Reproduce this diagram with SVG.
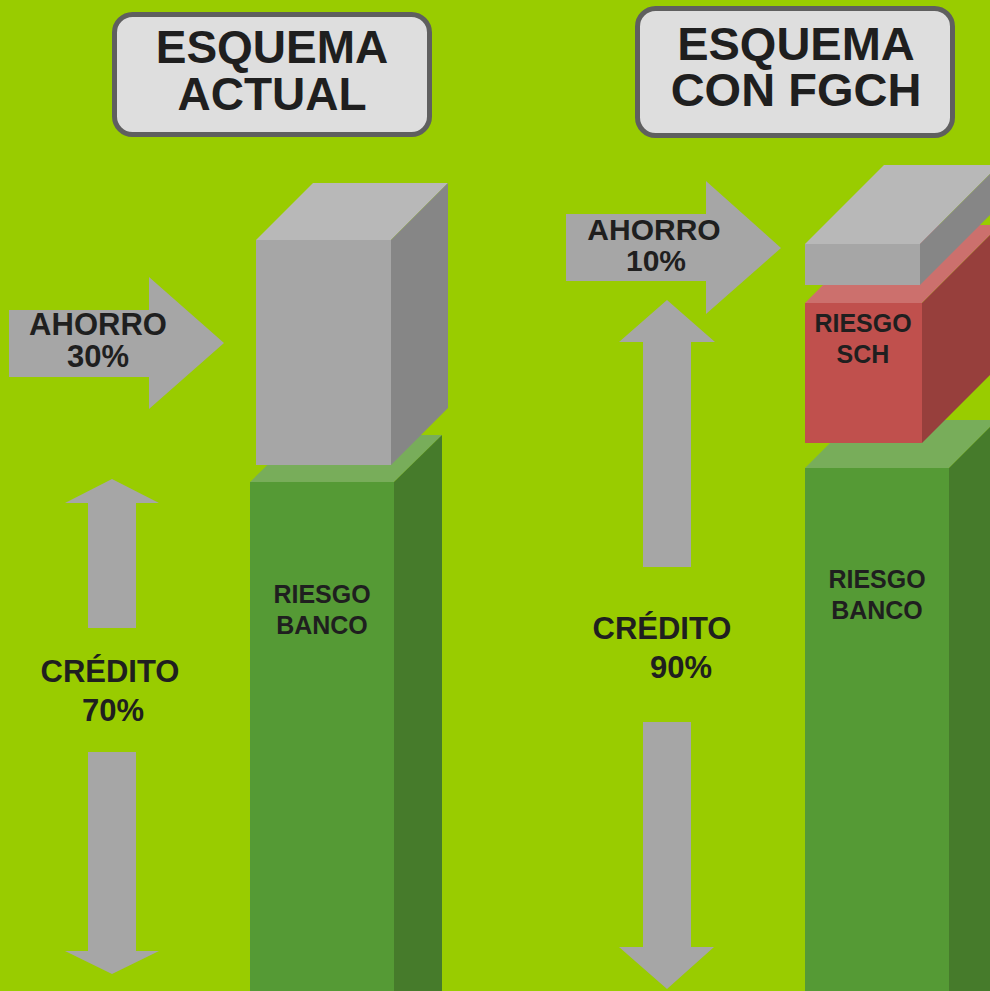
<svg xmlns="http://www.w3.org/2000/svg" width="990" height="991" viewBox="0 0 990 991">
<style>
.t{font-family:"Liberation Sans",Arial,sans-serif;font-weight:bold;fill:#1f1f1f;text-anchor:middle}
.title{font-size:46px}
.lab{font-size:31px}
.sm{font-size:25px}
.arr{fill:#a6a6a6}
.box{fill:#dedede;stroke:#5f5f5f;stroke-width:5}
.gF{fill:#a6a6a6}.gT{fill:#b8b8b8}.gS{fill:#868686}
.nF{fill:#559a35}.nT{fill:#78ad5a}.nS{fill:#467b2b}
.rF{fill:#c0504d}.rT{fill:#cc706d}.rS{fill:#973f3c}
</style>
<rect width="990" height="991" fill="#99cc00"/>

<g id="title-actual">
<rect class="box" x="114.5" y="14.5" width="315" height="120" rx="18"/>
<text class="t title" x="272" y="63">ESQUEMA</text>
<text class="t title" x="272" y="110">ACTUAL</text>
</g>
<g id="title-fgch">
<rect class="box" x="637.5" y="8.5" width="315" height="127" rx="18"/>
<text class="t title" x="796" y="60" style="font-size:47px">ESQUEMA</text>
<text class="t title" x="796" y="106" style="font-size:47px">CON FGCH</text>
</g>

<g id="left-banco">
<polygon class="nT" points="250,482 394,482 442,435 298,435"/>
<polygon class="nS" points="394,482 442,435 442,991 394,991"/>
<rect class="nF" x="250" y="482" width="144" height="509"/>
<text class="t sm" x="322" y="603">RIESGO</text>
<text class="t sm" x="322" y="634">BANCO</text>
</g>
<g id="left-ahorro-box">
<polygon class="gT" points="256,240 391,240 448,183 313,183"/>
<polygon class="gS" points="391,240 448,183 448,408 391,465"/>
<rect class="gF" x="256" y="240" width="135" height="225"/>
</g>

<g id="right-banco">
<polygon class="nT" points="805,468 949,468 997,420 853,420"/>
<polygon class="nS" points="949,468 997,420 997,991 949,991"/>
<rect class="nF" x="805" y="468" width="144" height="523"/>
<text class="t sm" x="877" y="588">RIESGO</text>
<text class="t sm" x="877" y="619">BANCO</text>
</g>
<g id="right-sch">
<polygon class="rT" points="805,303 922,303 1000,225 883,225"/>
<polygon class="rS" points="922,303 1000,225 1000,365 922,443"/>
<rect class="rF" x="805" y="303" width="117" height="140"/>
<text class="t sm" x="863" y="332">RIESGO</text>
<text class="t sm" x="863" y="363">SCH</text>
</g>
<g id="right-ahorro-box">
<polygon class="gT" points="805,244 920,244 999,165 884,165"/>
<polygon class="gS" points="920,244 999,165 999,206 920,285"/>
<rect class="gF" x="805" y="244" width="115" height="41"/>
</g>

<g id="connectors">
<polygon class="arr" points="9,310 149,310 149,277 224,343 149,409 149,377 9,377"/>
<polygon class="arr" points="112,479 159,503 136,503 136,628 88,628 88,503 65,503"/>
<polygon class="arr" points="88,752 136,752 136,951 159,951 112,974 65,951 88,951"/>
<polygon class="arr" points="566,214 706,214 706,181 781,248 706,314 706,281 566,281"/>
<polygon class="arr" points="667,300 715,342 691,342 691,567 643,567 643,342 619,342"/>
<polygon class="arr" points="643,722 691,722 691,947 714,947 667,989 619,947 643,947"/>
</g>

<g id="labels">
<text class="t lab" x="98" y="335">AHORRO</text>
<text class="t lab" x="98" y="367">30%</text>
<text class="t lab" x="654" y="240" style="font-size:30px">AHORRO</text>
<text class="t lab" x="656" y="271" style="font-size:30px">10%</text>
<text class="t lab" x="110" y="682">CRÉDITO</text>
<text class="t lab" x="113" y="721">70%</text>
<text class="t lab" x="662" y="639">CRÉDITO</text>
<text class="t lab" x="681" y="678">90%</text>
</g>
</svg>
